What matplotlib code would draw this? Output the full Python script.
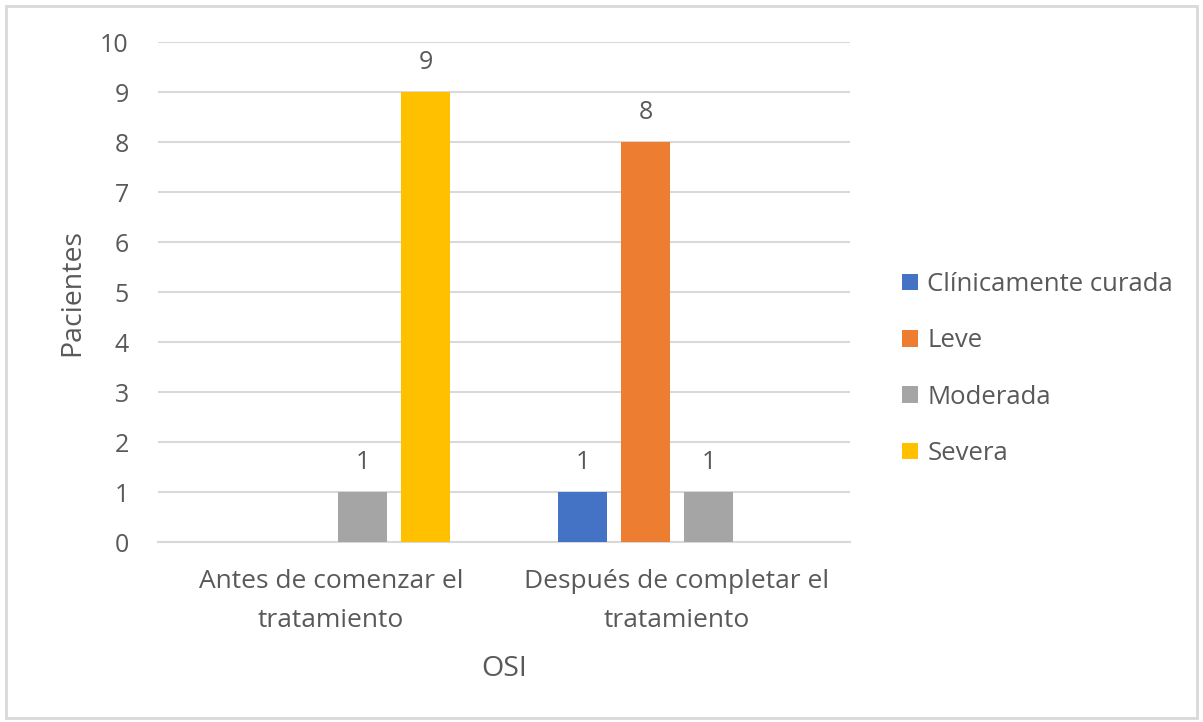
import matplotlib
matplotlib.use("Agg")
import matplotlib.pyplot as plt
import numpy as np
from matplotlib.patches import Rectangle

categories = ["Antes de comenzar el\ntratamiento", "Después de completar el\ntratamiento"]
series_names = ["Clínicamente curada", "Leve", "Moderada", "Severa"]
curada = [0, 1]
leve = [0, 8]
moderada = [1, 1]
severa = [9, 0]
series_values = [curada, leve, moderada, severa]
colors = ["#4472C4", "#ED7D31", "#A5A5A5", "#FFC000"]
yticks = list(range(0, 11))

plt.rcParams['font.family'] = ['Open Sans', 'DejaVu Sans']
txt = "#595959"
grid = "#D9D9D9"

fig = plt.figure(figsize=(12.03, 7.22), dpi=100)
fig.patches.append(Rectangle((0.005, 0.006), 0.99, 0.986, transform=fig.transFigure,
                             fill=False, edgecolor="#D9D9D9", linewidth=2))
ax = fig.add_axes([0.1313, 0.2493, 0.5753, 0.6925])

x = np.arange(len(categories))
width = 0.142
step = 0.182
offsets = (np.arange(4) - 1.5) * step
for i, (name, vals, c) in enumerate(zip(series_names, series_values, colors)):
    bars = ax.bar(x + offsets[i], vals, width, color=c, label=name, zorder=3)
    labels = [str(v) if v != 0 else "" for v in vals]
    ax.bar_label(bars, labels=labels, padding=12, fontsize=18, color=txt)

ax.set_xlim(-0.5, 1.5)
ax.set_ylim(0, 10)
ax.set_yticks(yticks)
ax.set_xticks(x)
ax.set_xticklabels(categories, fontsize=19, color=txt, linespacing=1.72)
ax.tick_params(axis='both', length=0, labelcolor=txt)
ax.tick_params(axis='y', pad=21, labelsize=18)
ax.tick_params(axis='x', pad=19.5)
ax.grid(axis='y', color=grid, linewidth=1.5, zorder=0)
for s in ["top", "right", "left"]:
    ax.spines[s].set_visible(False)
ax.spines["bottom"].set_color(grid)
ax.spines["bottom"].set_linewidth(1.5)

ax.set_ylabel("Pacientes", fontsize=20.5, color=txt, labelpad=10)
ax.set_xlabel("OSI", fontsize=20.5, color=txt, labelpad=16)

leg = ax.legend(loc="center left", bbox_to_anchor=(1.042, 0.346), frameon=False,
                fontsize=18.5, labelcolor=txt, handlelength=0.62, handleheight=0.62,
                handletextpad=0.35, labelspacing=1.22)

fig.savefig("out.png", dpi=100)
